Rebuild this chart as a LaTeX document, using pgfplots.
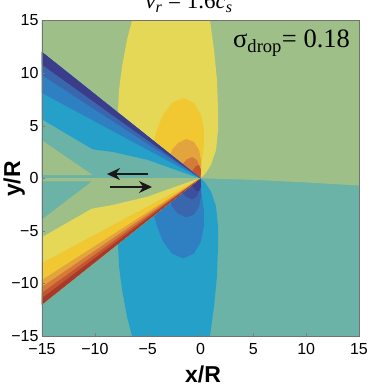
\documentclass[border=0pt]{standalone}
\usepackage{pgfplots}
\pgfplotsset{compat=1.18}
\usetikzlibrary{arrows.meta}
\usepackage{fontspec}
\setmainfont{Liberation Sans}
\newfontfamily\seriffont{Liberation Serif}
\definecolor{cGreen}{HTML}{9EBF87}
\definecolor{cTeal}{HTML}{6BB3A7}
\definecolor{cCyan}{HTML}{25A1C9}
\definecolor{cBlue}{HTML}{2E80C2}
\definecolor{cSlate}{HTML}{3A66AE}
\definecolor{cDSlate}{HTML}{3D509E}
\definecolor{cNavy}{HTML}{3B3C8A}
\definecolor{cYel}{HTML}{E4D856}
\definecolor{cOY}{HTML}{F1C832}
\definecolor{cOr}{HTML}{E3A33D}
\definecolor{cDOr}{HTML}{D57B39}
\definecolor{cRed}{HTML}{C45530}
\definecolor{cBrown}{HTML}{A53A2B}
\pgfplotsset{reg/.style={draw=none, fill=#1, mark=none, forget plot}}
\begin{document}
\begin{tikzpicture}
\begin{axis}[
  at={(42pt,50pt)}, anchor=south west,
  scale only axis, width=317pt, height=315.5pt,
  xmin=-15, xmax=15, ymin=-15, ymax=15,
  axis on top, clip=true,
  tick pos=left, tick align=inside, major tick length=3pt,
  axis line style={draw=black!55},
  xtick={-15,-10,-5,0,5,10,15},
  xticklabels={−15,−10,−5,0,5,10,15},
  ytick={-15,-10,-5,0,5,10,15},
  yticklabels={−15,−10,−5,0,5,10,15},
  tick label style={font=\fontsize{16}{16}\selectfont},
  xticklabel style={yshift=-4pt},
]
% backgrounds
\addplot[reg=cTeal] coordinates {(-16,-16) (16,-16) (16,16) (-16,16)};
\addplot[reg=cGreen] coordinates {(-16,0) (0,0) (5,-0.15) (10,-0.4) (16,-0.75) (16,16) (-16,16)};
% upper lobe
\addplot[reg=cYel] coordinates {(-6.4,15.5) (-6.48,15) (-6.96,13.15) (-7.43,10.58) (-7.71,8.39) (-7.81,6.3) (-7.9,5.5) (-0.5,0) (0,0) (0.43,0.40) (0.99,1.26) (1.47,2.69) (1.66,4.59) (1.66,6.49) (1.56,9.34) (1.28,12.2) (0.9,15) (0.85,15.5)};
\addplot[reg=cOY] coordinates {(-4.5,3.2) (-4.3,3.9) (-4.12,4.59) (-3.55,6.01) (-2.70,7.16) (-1.66,7.63) (-0.62,7.16) (0.05,6.01) (0.33,4.59) (0.33,3.16) (0.14,1.74) (-0.05,0.6) (0,0) (-0.5,0)};
\addplot[reg=cOr] coordinates {(-2.9,2.0) (-2.70,2.69) (-2.13,3.35) (-1.37,3.73) (-0.62,3.45) (-0.14,2.69) (0.05,1.74) (0.05,0.78) (0,0) (-0.5,0)};
\addplot[reg=cDOr] coordinates {(-1.8,1.2) (-1.37,1.74) (-0.80,2.02) (-0.33,1.74) (-0.05,0.97) (0,0) (-0.3,0)};
\addplot[reg=cRed] coordinates {(-0.9,0.5) (-0.43,1.17) (-0.14,1.26) (0.05,0.78) (0,0) (-0.2,0)};
% lower lobe
\addplot[reg=cCyan] coordinates {(-6.4,-15.5) (-6.48,-15) (-6.96,-13.15) (-7.43,-10.58) (-7.71,-8.39) (-7.81,-6.3) (-7.9,-5.5) (-0.5,0) (0,0) (0.43,-0.40) (0.99,-1.26) (1.47,-2.69) (1.66,-4.59) (1.66,-6.49) (1.56,-9.34) (1.28,-12.2) (0.9,-15) (0.85,-15.5)};
\addplot[reg=cBlue] coordinates {(-4.5,-3.2) (-4.3,-3.9) (-4.12,-4.59) (-3.55,-6.01) (-2.70,-7.16) (-1.66,-7.63) (-0.62,-7.16) (0.05,-6.01) (0.33,-4.59) (0.33,-3.16) (0.14,-1.74) (-0.05,-0.6) (0,0) (-0.5,0)};
\addplot[reg=cSlate] coordinates {(-2.9,-2.0) (-2.70,-2.69) (-2.13,-3.35) (-1.37,-3.73) (-0.62,-3.45) (-0.14,-2.69) (0.05,-1.74) (0.05,-0.78) (0,0) (-0.5,0)};
\addplot[reg=cDSlate] coordinates {(-1.8,-1.2) (-1.37,-1.74) (-0.80,-2.02) (-0.33,-1.74) (-0.05,-0.97) (0,0) (-0.3,0)};
\addplot[reg=cNavy] coordinates {(-0.9,-0.5) (-0.43,-1.17) (-0.14,-1.26) (0.05,-0.78) (0,0) (-0.2,0)};
% upper wake
\addplot[reg=cTeal] coordinates {(0,0) (-15.5,12.4) (-15.5,0)};
\addplot[reg=cGreen] coordinates {(-15.5,0.3) (-15.5,3.94) (-10.2,0.3)};
\addplot[reg=cCyan] coordinates {(0,0) (-15.5,12.4) (-15.5,5.9) (-15,5.6) (-10.2,2.75) (-8.3,2.5) (-5,1.75) (-2.5,0.85) (-0.8,0.25)};
\addplot[reg=cBlue] coordinates {(0,0) (-15.5,12.4) (-15.5,8.37)};
\addplot[reg=cSlate] coordinates {(0,0) (-15.5,12.4) (-15.5,10.13)};
\addplot[reg=cNavy] coordinates {(0,0) (-15.5,12.4) (-15.5,11.16)};
% lower wake
\addplot[reg=cGreen] coordinates {(0,0) (-15.5,-12.4) (-15.5,0)};
\addplot[reg=cTeal] coordinates {(-15.5,-0.3) (-15.5,-4.28) (-10.3,-0.3)};
\addplot[reg=cYel] coordinates {(0,0) (-15.5,-12.4) (-15.5,-5.9) (-15,-5.6) (-10.3,-2.9) (-8.3,-2.54) (-5,-1.75) (-2.5,-0.85) (-0.8,-0.25)};
\addplot[reg=cOY] coordinates {(0,0) (-15.5,-12.4) (-15.5,-8.33)};
\addplot[reg=cOr] coordinates {(0,0) (-15.5,-12.4) (-15.5,-9.99)};
\addplot[reg=cDOr] coordinates {(0,0) (-15.5,-12.4) (-15.5,-10.68)};
\addplot[reg=cRed] coordinates {(0,0) (-15.5,-12.4) (-15.5,-11.26)};
\addplot[reg=cBrown] coordinates {(0,0) (-15.5,-12.4) (-15.5,-11.78)};
% arrows
\addplot[black!90, line width=1.5pt, mark=none, -{Stealth[length=13pt,width=12pt]}, forget plot] coordinates {(-4.97,0.4) (-8.85,0.4)};
\addplot[black!90, line width=1.5pt, mark=none, -{Stealth[length=13pt,width=12pt]}, forget plot] coordinates {(-8.59,-0.83) (-4.59,-0.83)};
\end{axis}
\node[anchor=base, font=\seriffont\fontsize{23}{23}\selectfont] at (189pt,377pt) {\itshape v\textsubscript{r}\upshape\ = 1.6\itshape c\textsubscript{s}};
\node[anchor=base west, inner sep=0pt, font=\seriffont\fontsize{26.5}{26.5}\selectfont] at (233pt,338pt) {σ\textsubscript{drop}= 0.18};
\node[anchor=base, font=\bfseries\fontsize{23}{23}\selectfont, inner sep=0pt] at (203pt,4pt) {x/R};
\node[anchor=base, rotate=90, font=\bfseries\fontsize{23}{23}\selectfont, inner sep=0pt] at (20pt,207pt) {y/R};
\pgfresetboundingbox
\path[use as bounding box] (0,0) rectangle (374pt,386pt);
\end{tikzpicture}
\end{document}
